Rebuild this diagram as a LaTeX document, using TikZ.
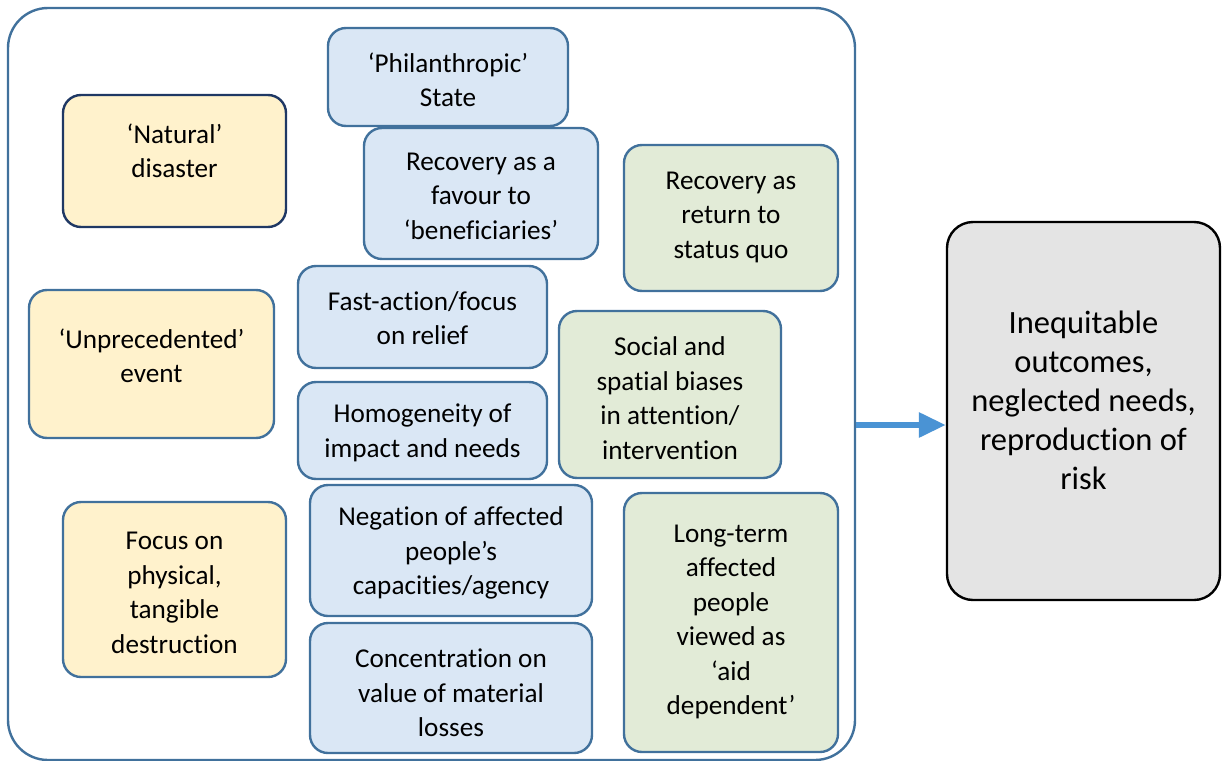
\documentclass[tikz,border=0pt]{standalone}
\usepackage{fontspec}
\setmainfont[Ligatures=NoCommon]{Carlito}
\usetikzlibrary{arrows.meta}
\definecolor{bord}{HTML}{41719C}
\definecolor{navy}{HTML}{1F3864}
\definecolor{yfill}{HTML}{FFF2CC}
\definecolor{bfill}{HTML}{DAE7F5}
\definecolor{gfill}{HTML}{E2EBD7}
\definecolor{grfill}{HTML}{E4E4E4}
\definecolor{arr}{HTML}{4A93D4}
\tikzset{
  box/.style={draw=bord, line width=2.4pt, rounded corners=18pt, inner sep=0pt},
  ybox/.style={box, fill=yfill},
  bbox/.style={box, fill=bfill},
  gbox/.style={box, fill=gfill},
  txt/.style={align=center, font=\fontsize{27.2}{34.5}\selectfont, inner sep=0pt},
  bigtxt/.style={align=center, font=\fontsize{32.5}{39}\selectfont, inner sep=0pt},
}
\newcommand{\mkbox}[6]{% style, name, x1, y1, x2, y2
  \pgfmathsetmacro{\mkw}{#5-#3}\pgfmathsetmacro{\mkh}{#6-#4}%
  \pgfmathsetmacro{\mkx}{(#3+#5)/2}\pgfmathsetmacro{\mky}{(#4+#6)/2}%
  \node[#1, minimum width=\mkw pt, minimum height=\mkh pt] (#2) at (\mkx,\mky) {};}
\begin{document}
\begin{tikzpicture}[x=1pt,y=-1pt]
\useasboundingbox (0,0) rectangle (1225,760);
% container
\node[draw=bord, line width=2.4pt, rounded corners=40pt, minimum width=847pt, minimum height=752pt, inner sep=0pt] (cont) at (431.5,384) {};
% output box
\node[draw=black, line width=2.4pt, fill=grfill, rounded corners=26pt, minimum width=273pt, minimum height=378pt, inner sep=0pt] (out) at (1083.5,411) {};
\node[bigtxt] (outT) at (1083.5,400) {Inequitable\\outcomes,\\neglected needs,\\reproduction of\\risk};
% yellow boxes
\mkbox{ybox, draw=navy}{nat}{63}{95}{286}{227}
\node[txt] (natT) at (174.5,151) {‘Natural’\\disaster};
\mkbox{ybox}{unp}{29}{290}{274}{438}
\node[txt] (unpT) at (151.5,356) {‘Unprecedented’\\event};
\mkbox{ybox}{foc}{63}{502}{286}{677}
\node[txt] (focT) at (174.5,593) {Focus on\\physical,\\tangible\\destruction};
% blue boxes
\mkbox{bbox}{phi}{328}{28}{568}{126}
\node[txt] (phiT) at (448,80) {‘Philanthropic’\\State};
\mkbox{bbox}{fav}{364}{128}{598}{259}
\node[txt] (favT) at (481,196) {Recovery as a\\favour to\\‘beneficiaries’};
\mkbox{bbox}{fast}{298}{266}{547}{368}
\node[txt] (fastT) at (422.5,318) {Fast-action/focus\\on relief};
\mkbox{bbox}{hom}{298}{382}{547}{479}
\node[txt] (homT) at (422.5,433) {Homogeneity of\\impact and needs};
\mkbox{bbox}{neg}{310}{485}{592}{616}
\node[txt] (negT) at (451,553) {Negation of affected\\people’s\\capacities/agency};
\mkbox{bbox}{con}{310}{623}{592}{753}
\node[txt] (conT) at (451,693) {Concentration on\\value of material\\losses};
% green boxes
\mkbox{gbox}{ret}{624}{145}{838}{291}
\node[txt] (retT) at (731,217) {Recovery as\\return to\\status quo};
\mkbox{gbox}{soc}{559}{311}{781}{478}
\node[txt] (socT) at (670,398) {Social and\\spatial biases\\in attention/\\intervention};
\mkbox{gbox}{lon}{624}{493}{838}{752}
\node[txt] (lonT) at (731,622) {Long-term\\affected\\people\\viewed as\\‘aid\\dependent’};
% arrow
\coordinate (a1) at (856,425);
\draw[arr, line width=6pt, -{Triangle[length=27pt,width=24pt]}] (a1) -- (a1 -| out.west);
\end{tikzpicture}
\end{document}
